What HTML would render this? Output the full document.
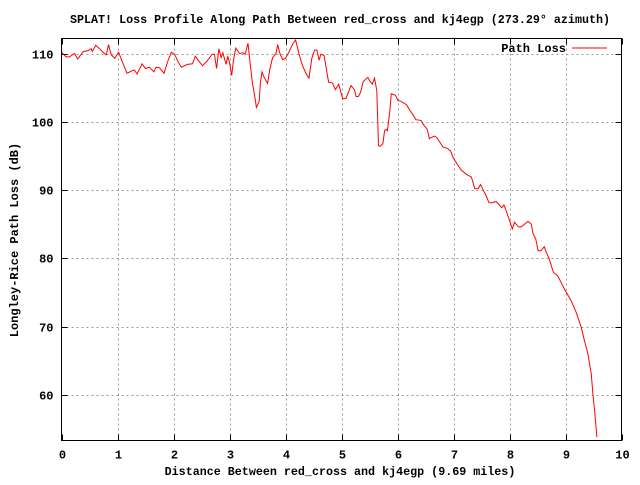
<!DOCTYPE html>
<html><head><meta charset="utf-8"><style>
body{margin:0;background:#fff}
svg text{font-family:"Liberation Mono",monospace;font-weight:bold;fill:#000}
</style></head><body>
<svg id="chart" width="640" height="480" xmlns="http://www.w3.org/2000/svg">
<rect width="640" height="480" fill="#fff"/>
<text x="340" y="23" font-size="11.7" text-anchor="middle">SPLAT! Loss Profile Along Path Between red_cross and kj4egp (273.29° azimuth)</text>
<g id="grid"></g>
<g id="ticks"></g>
<path id="series" fill="none" stroke="#f00" stroke-width="1"/>
<rect x="61.5" y="38.5" width="560" height="402" fill="none" stroke="#000"/>
<text x="340" y="475" font-size="11.7" text-anchor="middle">Distance Between red_cross and kj4egp (9.69 miles)</text>
<text transform="translate(18,240) rotate(-90)" font-size="12" text-anchor="middle">Longley-Rice Path Loss (dB)</text>
<g>
<text x="566" y="52" font-size="12" text-anchor="end">Path Loss</text>
<line x1="572" y1="48" x2="607" y2="48" stroke="#f00"/>
</g>
</svg>
<script>
const dist=[0,0.08,0.14,0.23,0.29,0.39,0.47,0.53,0.55,0.61,0.68,0.74,0.8,0.84,0.89,0.95,1.02,1.1,1.17,1.24,1.3,1.35,1.44,1.5,1.57,1.65,1.69,1.75,1.83,1.9,1.96,2.02,2.08,2.14,2.25,2.34,2.39,2.46,2.52,2.6,2.69,2.73,2.77,2.81,2.85,2.88,2.94,2.97,3.0,3.04,3.07,3.11,3.18,3.24,3.28,3.33,3.37,3.41,3.45,3.48,3.53,3.55,3.58,3.62,3.68,3.72,3.77,3.83,3.86,3.9,3.95,4.0,4.06,4.13,4.18,4.24,4.3,4.37,4.42,4.47,4.52,4.56,4.6,4.63,4.69,4.77,4.84,4.89,4.95,5.02,5.08,5.17,5.23,5.26,5.3,5.34,5.39,5.47,5.51,5.55,5.59,5.63,5.66,5.69,5.74,5.77,5.8,5.82,5.86,5.89,5.96,6.01,6.06,6.16,6.22,6.27,6.33,6.42,6.47,6.53,6.57,6.6,6.66,6.7,6.75,6.81,6.89,6.95,6.99,7.08,7.14,7.23,7.32,7.38,7.44,7.48,7.52,7.58,7.63,7.67,7.76,7.82,7.86,7.9,7.94,7.99,8.05,8.09,8.16,8.21,8.27,8.33,8.39,8.42,8.47,8.51,8.56,8.62,8.66,8.71,8.77,8.79,8.86,8.92,8.98,9.1,9.19,9.28,9.34,9.4,9.46,9.49,9.52,9.56];
const loss=[110.2,109.5,109.5,110,109.2,110.3,110.4,110.7,110.3,111.2,110.7,110.2,109.8,111.3,109.8,109.3,110.2,108.5,107.1,107.4,107.6,107,108.5,107.8,108,107.3,108,107.9,107.1,108.9,110.2,109.9,108.8,108,108.4,108.5,109.6,108.8,108.2,108.9,109.9,109.9,107.8,110.7,109.4,110.1,108.4,109.6,108.7,106.8,108.9,110.8,110,110.1,109.9,111.5,108.5,105.6,103.8,102.1,103,105.6,107.3,106.5,105.6,107.7,109.4,110,111.3,110,109.1,109.3,110.2,111.4,112,110,108.3,107,106.4,109.3,110.5,110.5,109,109.9,109.7,105.8,105.7,104.7,105.5,103.4,103.4,105.3,104.7,103.7,103.7,104.3,105.9,106.5,105.9,105.5,106.4,104.6,96.5,96.4,96.8,98.7,98.9,98.7,101.4,104.1,103.9,103.1,103,102.5,101.7,101.1,100.3,100.2,99.5,98.9,97.5,97.7,97.9,97.7,97.1,96.3,96.1,95.7,94.8,93.6,92.9,92.3,91.9,90.2,90.2,90.8,90.2,89.2,88.2,88.1,88.3,87.8,87.4,87.8,87,85.8,84.3,85.3,84.6,84.6,85,85.4,85,83.6,82.8,81.1,81.1,81.7,80.8,79.9,78.3,77.9,77.4,76.5,75.5,73.8,72.1,69.9,67.9,66,63,60.1,57.7,53.8];
const xTicks=[0,1,2,3,4,5,6,7,8,9,10];
const yTicks=[60,70,80,90,100,110];
const X0=61.5,X1=621.5,Y0=440.5,Y1=38.5,XMIN=0,XMAX=10,YMIN=53.3,YMAX=112.2;
function sx(v){return X0+(v-XMIN)/(XMAX-XMIN)*(X1-X0);}
function sy(v){return Y0-(v-YMIN)/(YMAX-YMIN)*(Y0-Y1);}
const NS="http://www.w3.org/2000/svg";
const grid=document.getElementById('grid'),ticks=document.getElementById('ticks');
function ln(p,x1,y1,x2,y2,st,dash){const l=document.createElementNS(NS,'line');l.setAttribute('x1',x1);l.setAttribute('y1',y1);l.setAttribute('x2',x2);l.setAttribute('y2',y2);l.setAttribute('stroke',st);if(dash)l.setAttribute('stroke-dasharray',dash);p.appendChild(l);return l;}
function tx(x,y,s,anchor){const t=document.createElementNS(NS,'text');t.setAttribute('x',x);t.setAttribute('y',y);t.setAttribute('font-size','12');t.setAttribute('text-anchor',anchor);t.textContent=s;ticks.appendChild(t);return t;}
xTicks.forEach(v=>{const x=Math.round(sx(v))+0.5;
 if(v>XMIN&&v<XMAX){const g=ln(grid,x,Y1,x,Y0,'#999','2,3');
 
 }
 const a=ln(ticks,x,Y0,x,Y0-6,'#000');
 
 
 ln(ticks,x,Y1,x,Y1+6,'#000');
 const t=tx(x,Y0+18,String(v),'middle');
 
 });
yTicks.forEach(v=>{const y=Math.round(sy(v))+0.5;
 const g=ln(grid,X0,y,X1,y,'#999','2,3');
 
 
 const a=ln(ticks,X0,y,X0+6,y,'#000');
 
 
 ln(ticks,X1,y,X1-6,y,'#000');
 const t=tx(X0-8,y+4,String(v),'end');
 
 });
document.getElementById('series').setAttribute('d',dist.map((d,i)=>(i?'L':'M')+sx(d).toFixed(1)+','+sy(loss[i]).toFixed(1)).join(''));
</script>
</body></html>
